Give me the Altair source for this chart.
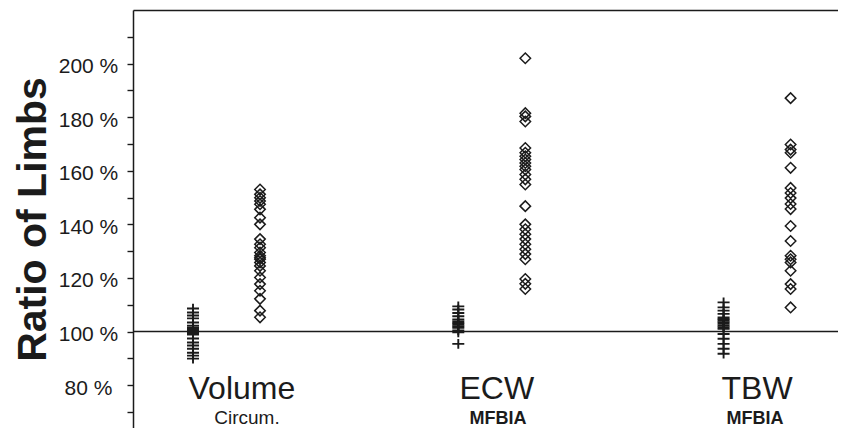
import altair as alt
import pandas as pd

groups = ["Volume", "ECW", "TBW"]
methods = ["Circum.", "MFBIA", "MFBIA"]

volume_cross = [108.6, 107.1, 106.0, 104.9, 103.4, 102.2, 101.5, 101.1, 100.8, 100.4,
                100.2, 100.0, 99.6, 99.3, 98.9, 97.4, 95.9, 94.8, 93.6, 92.1, 91.0, 89.9]
volume_diamond = [153.0, 151.2, 149.9, 148.7, 147.5, 145.6, 142.5, 140.0, 134.5, 132.6,
                  131.3, 129.5, 128.3, 127.5, 127.0, 125.8, 124.5, 122.7, 120.2, 117.7,
                  115.2, 112.2, 107.8, 105.3]
ecw_cross = [109.4, 108.2, 106.9, 105.7, 104.5, 103.8, 103.2, 102.6, 102.0, 101.4,
             100.4, 99.7, 95.4]
ecw_diamond = [202.0, 181.5, 180.3, 178.4, 168.5, 166.7, 165.4, 164.2, 162.9, 161.7,
               160.5, 158.6, 156.8, 154.9, 146.8, 140.0, 138.2, 136.3, 134.5, 132.6,
               130.7, 128.9, 127.0, 119.6, 117.8, 115.9]
tbw_cross = [110.9, 109.0, 107.8, 106.6, 105.3, 104.7, 104.1, 103.5, 102.9, 102.2,
             101.6, 101.0, 99.1, 97.3, 95.4, 93.6, 91.7]
tbw_diamond = [187.1, 169.8, 167.9, 166.7, 161.1, 153.6, 151.7, 149.8, 147.6, 145.7,
               139.4, 133.8, 128.3, 127.0, 125.8, 122.7, 117.7, 115.9, 109.0]

OFF = 0.1263
rows = []
for gi, (cr, di) in enumerate([(volume_cross, volume_diamond),
                               (ecw_cross, ecw_diamond),
                               (tbw_cross, tbw_diamond)]):
    for v in cr:
        rows.append({"x": gi + 1 - OFF, "ratio": v, "kind": "cross"})
    for v in di:
        rows.append({"x": gi + 1 + OFF, "ratio": v, "kind": "diamond"})
df = pd.DataFrame(rows)

label_shift = [0.058, 0.019, 0.0]
sub_shift = [0.077, 0.023, -0.008]
lab_df = pd.DataFrame({"x": [i + 1 + s for i, s in enumerate(label_shift)], "label": groups})
sub_df = pd.DataFrame({"x": [i + 1 + s for i, s in enumerate(sub_shift)], "label": methods,
                       "bold": ["normal", "bold", "bold"]})

INK = "#1b1b1b"
FONT = "Liberation Sans"

x_enc = alt.X("x:Q", scale=alt.Scale(domain=[0.6475, 3.305], nice=False, zero=False),
              axis=alt.Axis(orient="top", ticks=False, labels=False, title=None, grid=False,
                            domain=True, domainColor=INK, domainWidth=1.5))
y_enc = alt.Y("ratio:Q", scale=alt.Scale(domain=[64, 220], nice=False, zero=False),
              axis=alt.Axis(values=list(range(70, 211, 10)),
                            labelExpr="datum.value % 20 == 0 ? datum.value + ' %' : ''",
                            labelOverlap=False, grid=False, domain=True, domainColor=INK,
                            domainWidth=1.5, ticks=True, tickSize=6, tickColor=INK,
                            tickWidth=1.4, labelAlign="center", labelBaseline="middle",
                            labelPadding=39, labelOffset=3, labelFontSize=21, labelFont=FONT,
                            labelColor=INK, title="Ratio of Limbs", titleFont=FONT,
                            titleFontSize=41, titleFontWeight="bold", titleColor=INK,
                            titleAngle=270, titleBaseline="alphabetic", titleAlign="center",
                            titleX=-88, titleY=209))

cross_path = "M-1,0L1,0M0,-0.8L0,0.8"

crosses = alt.Chart(df).transform_filter(alt.datum.kind == "cross").mark_point(
    shape=cross_path, size=144, filled=False, color=INK, strokeWidth=1.9, opacity=1
).encode(x=x_enc, y=y_enc)

diamonds = alt.Chart(df).transform_filter(alt.datum.kind == "diamond").mark_point(
    shape="diamond", size=110, filled=False, color=INK, strokeWidth=1.5, opacity=1
).encode(x=x_enc, y=y_enc)

rule = alt.Chart(pd.DataFrame({"ratio": [100]})).mark_rule(color=INK, strokeWidth=1.5).encode(y=y_enc)

labels = alt.Chart(lab_df).mark_text(
    font=FONT, fontSize=32, color=INK, align="center", baseline="alphabetic"
).encode(x=x_enc, y=alt.value(389), text="label:N")

subs_normal = alt.Chart(sub_df).transform_filter(alt.datum.bold == "normal").mark_text(
    font=FONT, fontSize=19, color=INK, align="center", baseline="alphabetic"
).encode(x=x_enc, y=alt.value(414), text="label:N")

subs_bold = alt.Chart(sub_df).transform_filter(alt.datum.bold == "bold").mark_text(
    font=FONT, fontSize=18, fontWeight="bold", color=INK, align="center", baseline="alphabetic"
).encode(x=x_enc, y=alt.value(414), text="label:N")

chart = alt.layer(rule, crosses, diamonds, labels, subs_normal, subs_bold).properties(
    width=705, height=418,
    autosize=alt.AutoSizeParams(type="none"),
    padding={"left": 125, "top": 2, "right": 0, "bottom": 0},
    background="white",
).configure_view(stroke=None)

chart.save("out.html", embed_options={"renderer": "svg", "actions": False})
